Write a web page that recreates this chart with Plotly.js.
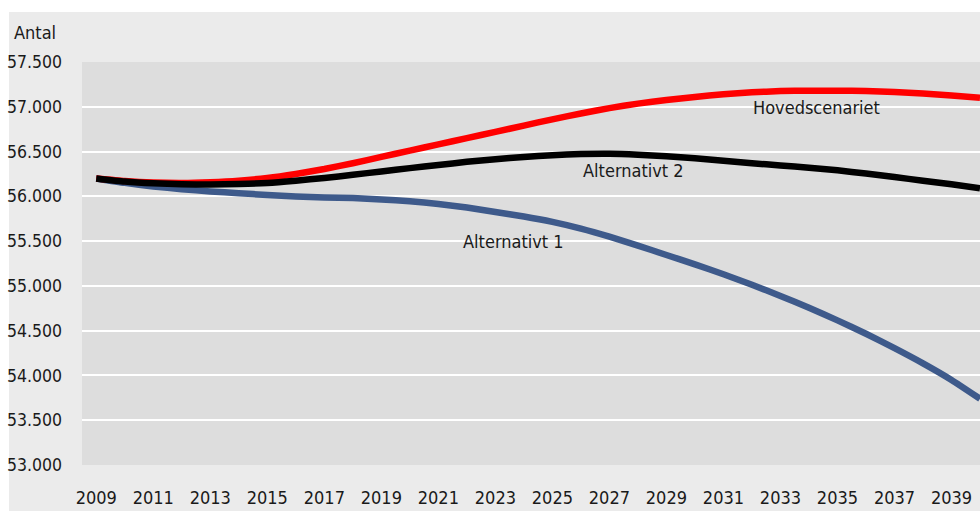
<!DOCTYPE html>
<html>
<head>
<meta charset="utf-8">
<script src="https://cdn.plot.ly/plotly-3.0.1.min.js"></script>
<style>
  html, body { margin: 0; padding: 0; background: #ffffff; width: 980px; height: 511px; overflow: hidden; }
  #chart { position: absolute; left: 0; top: 0; width: 980px; height: 511px; }
</style>
</head>
<body>
<div id="chart"></div>
<script>
const years = [2009,2010,2011,2012,2013,2014,2015,2016,2017,2018,2019,2020,2021,2022,2023,2024,
               2025,2026,2027,2028,2029,2030,2031,2032,2033,2034,2035,2036,2037,2038,2039,2040];

const hovedscenariet = [56200,56172,56155,56150,56158,56175,56205,56250,56305,56370,56440,56510,56580,56650,56720,56790,
                        56860,56925,56985,57035,57075,57110,57140,57162,57175,57180,57180,57175,57165,57148,57125,57100];

const alternativt2 = [56200,56165,56145,56135,56132,56138,56150,56175,56205,56240,56278,56315,56350,56385,56415,56440,
                      56460,56472,56475,56465,56448,56425,56398,56370,56345,56320,56290,56255,56215,56175,56135,56090];

const alternativt1 = [56200,56150,56110,56080,56055,56035,56015,55998,55988,55980,55965,55945,55915,55875,55825,55775,
                      55715,55640,55550,55450,55345,55240,55130,55012,54888,54755,54615,54465,54305,54135,53950,53740];

const xTicks = [2009,2011,2013,2015,2017,2019,2021,2023,2025,2027,2029,2031,2033,2035,2037,2039];
const yTicks = [53000,53500,54000,54500,55000,55500,56000,56500,57000,57500];
const yTickText = ["53.000","53.500","54.000","54.500","55.000","55.500","56.000","56.500","57.000","57.500"];

const seriesNames = ["Alternativt 1","Hovedscenariet","Alternativt 2"];
const labelYears = [2023.65, 2034.26, 2027.86];
const labelValues = [55500, 56995, 56290];

const FONT = "'DejaVu Sans Condensed', 'Liberation Sans', sans-serif";
const FS = 18;

const traces = [
  {x: years, y: alternativt1, name: seriesNames[0], mode: 'lines', line: {color: '#3e5a8b', width: 6.5, shape: 'spline', smoothing: 0.5}},
  {x: years, y: hovedscenariet, name: seriesNames[1], mode: 'lines', line: {color: '#ff0000', width: 6.5, shape: 'spline', smoothing: 0.5}},
  {x: years, y: alternativt2, name: seriesNames[2], mode: 'lines', line: {color: '#000000', width: 6.5, shape: 'spline', smoothing: 0.5}}
];

const annotations = seriesNames.map((n, i) => ({
  x: labelYears[i], y: labelValues[i], xref: 'x', yref: 'y', text: n, showarrow: false,
  xanchor: 'center', yanchor: 'middle', font: {family: FONT, size: FS, color: '#1a1a1a'}
}));
annotations.push({
  x: -0.078, y: 1.074, xref: 'paper', yref: 'paper', text: 'Antal', showarrow: false,
  xanchor: 'left', yanchor: 'middle', font: {family: FONT, size: FS, color: '#1a1a1a'}
});

const layout = {
  width: 980, height: 511,
  margin: {l: 82, r: 0, t: 62, b: 46, pad: 0},
  paper_bgcolor: '#ffffff',
  plot_bgcolor: '#dddddd',
  showlegend: false,
  font: {family: FONT, size: FS, color: '#1a1a1a'},
  shapes: [
    {type: 'rect', xref: 'paper', yref: 'paper', layer: 'below',
     x0: -0.0813, x1: 1.05, y0: -0.3, y1: 1.1241, fillcolor: '#ebebeb', line: {width: 0}},
    {type: 'rect', xref: 'paper', yref: 'paper', layer: 'below',
     x0: 0, x1: 1, y0: 0, y1: 1, fillcolor: '#dddddd', line: {width: 0}}
  ],
  xaxis: {
    range: [2008.5, 2040.0], tickmode: 'array', tickvals: xTicks, ticktext: xTicks.map(String),
    showgrid: false, zeroline: false, showline: false, ticks: '', ticklabelstandoff: 20,
    tickfont: {family: FONT, size: FS, color: '#1a1a1a'}
  },
  yaxis: {
    range: [53000, 57500], tickmode: 'array', tickvals: yTicks, ticktext: yTickText,
    showgrid: true, gridcolor: '#ffffff', gridwidth: 2, zeroline: false, showline: false, ticks: '',
    ticklabelstandoff: 19, tickfont: {family: FONT, size: 17.5, color: '#1a1a1a'}
  },
  annotations: annotations
};

Plotly.newPlot('chart', traces, layout, {displayModeBar: false, staticPlot: true});
</script>
</body>
</html>
